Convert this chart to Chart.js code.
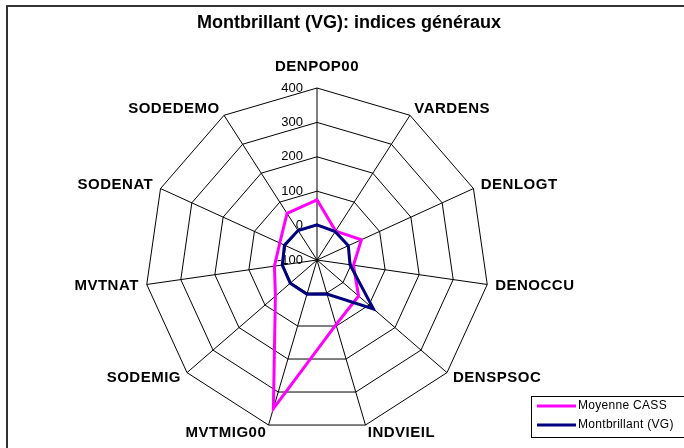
<!DOCTYPE html>
<html>
<head>
<meta charset="utf-8">
<script src="https://cdn.jsdelivr.net/npm/chart.js@4/dist/chart.umd.min.js"></script>
<style>
  html, body { margin: 0; padding: 0; background: #fff; }
  #wrap { width: 684px; height: 448px; position: relative; }
</style>
</head>
<body>
<div id="wrap"><canvas id="radar"></canvas></div>
<script>
const titleText = 'Montbrillant (VG): indices généraux';
const categories = ['DENPOP00', 'VARDENS', 'DENLOGT', 'DENOCCU', 'DENSPSOC', 'INDVIEIL',
  'MVTMIG00', 'SODEMIG', 'MVTNAT', 'SODENAT', 'SODEDEMO'];
const moyenneCass = [75, 0, 42, 7, 60, 96, 350, 60, 25, 19, 61];
const montbrillant = [2, -2, 0, -3, 117, 3, 4, 3, 2, 4, 2];
const seriesNames = ['Moyenne CASS', 'Montbrillant (VG)'];
const seriesColors = ['#ff00ff', '#000080'];
const axisMin = -100;
const axisMax = 400;
const axisStep = 100;

const FONT = '"Liberation Sans", Arial, sans-serif';

// frame, title, axis texts and the boxed legend, drawn like the Excel sheet
const decorPlugin = {
  id: 'decor',
  beforeDraw(chart) {
    const ctx = chart.ctx;
    ctx.save();
    ctx.fillStyle = '#fff';
    ctx.fillRect(0, 0, chart.width, chart.height);
    ctx.strokeStyle = '#333';
    ctx.lineWidth = 2;
    ctx.strokeRect(7, 6, chart.width + 20, chart.height + 20);
    ctx.restore();
  },
  beforeDatasetsDraw(chart) {
    const ctx = chart.ctx;
    const r = chart.scales.r;
    ctx.save();
    ctx.fillStyle = '#000';

    // tick values, left of the vertical axis
    ctx.font = '13px ' + FONT;
    ctx.textAlign = 'right';
    ctx.textBaseline = 'middle';
    r.ticks.forEach(t => {
      const d = r.getDistanceFromCenterForValue(t.value);
      ctx.fillText(t.label, r.xCenter - 14, r.yCenter - d);
    });

    // category names
    ctx.font = 'bold 15px ' + FONT;
    if ('letterSpacing' in ctx) ctx.letterSpacing = '0.5px';
    chart.data.labels.forEach((lab, i) => {
      const p = r.getPointPosition(i, r.drawingArea + 8);
      let y = p.y;
      if (Math.abs(p.x - r.xCenter) < 4) {
        ctx.textAlign = 'center';
        ctx.textBaseline = 'bottom';
        y -= 6;
      } else {
        ctx.textAlign = p.x > r.xCenter ? 'left' : 'right';
        ctx.textBaseline = 'middle';
      }
      ctx.fillText(lab, p.x, y);
    });
    ctx.restore();
  },
  afterDraw(chart) {
    const ctx = chart.ctx;
    ctx.save();
    ctx.fillStyle = '#000';
    ctx.font = 'bold 18px ' + FONT;
    ctx.textAlign = 'center';
    ctx.textBaseline = 'middle';
    ctx.fillText(titleText, 349, 23);

    // legend box
    ctx.fillStyle = '#fff';
    ctx.fillRect(531.5, 396.5, 200, 41);
    ctx.strokeStyle = '#000';
    ctx.lineWidth = 1;
    ctx.strokeRect(531.5, 396.5, 200, 41);
    ctx.font = '12px ' + FONT;
    if ('letterSpacing' in ctx) ctx.letterSpacing = '0.3px';
    ctx.textAlign = 'left';
    chart.data.datasets.forEach((ds, i) => {
      const y = 406 + i * 19;
      ctx.strokeStyle = ds.borderColor;
      ctx.lineWidth = 3;
      ctx.beginPath();
      ctx.moveTo(537, y);
      ctx.lineTo(576, y);
      ctx.stroke();
      ctx.fillStyle = '#000';
      ctx.fillText(ds.label, 578, y);
    });
    ctx.restore();
  }
};

new Chart(document.getElementById('radar'), {
  type: 'radar',
  data: {
    labels: categories,
    datasets: [
      {
        label: seriesNames[0],
        data: moyenneCass,
        borderColor: seriesColors[0],
        borderWidth: 3,
        fill: false,
        pointRadius: 0,
        order: 1,
      },
      {
        label: seriesNames[1],
        data: montbrillant,
        borderColor: seriesColors[1],
        borderWidth: 3,
        fill: false,
        pointRadius: 0,
        order: 0,
      },
    ],
  },
  options: {
    responsive: true,
    maintainAspectRatio: false,
    animation: false,
    devicePixelRatio: 1,
    layout: {
      padding: { top: 88, bottom: 16, left: 145, right: 195 },
    },
    elements: {
      line: { tension: 0 },
    },
    plugins: {
      legend: { display: false },
      title: { display: false },
      tooltip: { enabled: false },
    },
    scales: {
      r: {
        min: axisMin,
        max: axisMax,
        ticks: { stepSize: axisStep, display: false },
        grid: { circular: false, color: '#000', lineWidth: 1 },
        angleLines: { display: true, color: '#000', lineWidth: 1 },
        pointLabels: { display: false },
      },
    },
  },
  plugins: [decorPlugin],
});
</script>
</body>
</html>
